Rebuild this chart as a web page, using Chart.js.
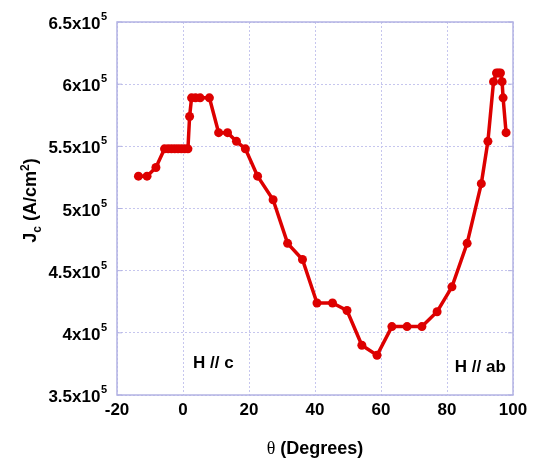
<!DOCTYPE html>
<html>
<head>
<meta charset="utf-8">
<script src="https://cdn.jsdelivr.net/npm/chart.js@4.4.0/dist/chart.umd.min.js"></script>
<style>
  html, body { margin: 0; padding: 0; background: #fff; }
  #wrap { width: 536px; height: 460px; }
</style>
</head>
<body>
<div id="wrap"><canvas id="jc-chart" width="536" height="460"></canvas></div>
<script>
// angle between field and c axis (degrees)
const theta = [-13.5, -10.9, -8.2, -5.6, -4.5, -3.5, -2.5, -1.5, -0.5, 0.5, 1.5, 2.0, 2.6, 3.8, 5.2, 8.0,
  10.8, 13.5, 16.2, 18.9, 22.6, 27.3, 31.7, 36.2, 40.6, 45.3, 49.7, 54.2, 58.8, 63.3, 67.9, 72.4,
  77.0, 81.5, 86.1, 90.4, 92.4, 94.1, 95.0, 95.6, 96.2, 96.7, 97.0, 97.9];
// critical current density (A/cm2)
const jc = [526000, 526000, 533000, 548000, 548000, 548000, 548000, 548000, 548000, 548000, 548000, 574000, 589000, 589000, 589000, 589000,
  561000, 561000, 554000, 548000, 526000, 507000, 472000, 459000, 424000, 424000, 418000, 390000, 382000, 405000, 405000, 405000,
  417000, 437000, 472000, 520000, 554000, 602000, 609000, 609000, 609000, 602000, 589000, 561000];

const xTicks = [-20, 0, 20, 40, 60, 80, 100];
const yTicks = [350000, 400000, 450000, 500000, 550000, 600000, 650000];
const yTickText = ['3.5x10', '4x10', '4.5x10', '5x10', '5.5x10', '6x10', '6.5x10'];

const notes = [
  { x: 9.2, y: 375700, text: 'H // c' },
  { x: 90.1, y: 372500, text: 'H // ab' }
];

const SANS = '"Liberation Sans", Arial, sans-serif';
const RED = '#dd0000';
const GRID = '#c6c6ee';
const FRAME = '#b3b3e3';

// frame, superscript tick labels and titles
const decorations = {
  id: 'decorations',
  beforeDatasetsDraw(chart) {
    const { ctx, chartArea: a } = chart;
    ctx.save();
    ctx.strokeStyle = FRAME;
    ctx.lineWidth = 1.5;
    ctx.strokeRect(a.left, a.top, a.right - a.left, a.bottom - a.top);
    // short solid tick marks on left/right edges
    const ys = chart.scales.y;
    ctx.lineWidth = 1;
    yTicks.forEach(v => {
      const py = ys.getPixelForValue(v);
      ctx.beginPath();
      ctx.moveTo(a.left, py); ctx.lineTo(a.left + 5, py);
      ctx.moveTo(a.right, py); ctx.lineTo(a.right - 5, py);
      ctx.stroke();
    });
    ctx.restore();
  },
  afterDraw(chart) {
    const { ctx, chartArea: a } = chart;
    const ys = chart.scales.y;
    const xs = chart.scales.x;
    ctx.save();
    ctx.fillStyle = '#000';
    // y tick labels like 6x10^5
    yTicks.forEach((v, i) => {
      const py = ys.getPixelForValue(v);
      ctx.font = 'bold 11px ' + SANS;
      const supW = ctx.measureText('5').width;
      const right = 107;
      ctx.textBaseline = 'alphabetic';
      ctx.textAlign = 'left';
      ctx.fillText('5', right - supW, py - 2);
      ctx.font = 'bold 17px ' + SANS;
      ctx.textAlign = 'right';
      ctx.fillText(yTickText[i], right - supW - 0.5, py + 7);
    });

    // y axis title: J_c (A/cm^2), rotated
    ctx.save();
    ctx.translate(30, (a.top + a.bottom) / 2 - 8);
    ctx.rotate(-Math.PI / 2);
    const parts = [
      { t: 'J', f: 'bold 18px ', dy: 0 },
      { t: 'c', f: 'bold 12px ', dy: 5 },
      { t: ' (A/cm', f: 'bold 18px ', dy: 0 },
      { t: '2', f: 'bold 12px ', dy: -7 },
      { t: ')', f: 'bold 18px ', dy: 0 }
    ];
    let total = 0;
    parts.forEach(p => { ctx.font = p.f + SANS; p.w = ctx.measureText(p.t).width; total += p.w; });
    let cx = -total / 2;
    ctx.textAlign = 'left';
    ctx.textBaseline = 'alphabetic';
    parts.forEach(p => {
      ctx.font = p.f + SANS;
      ctx.fillText(p.t, cx, 6 + p.dy);
      cx += p.w;
    });
    ctx.restore();

    // x axis title
    const tparts = [
      { t: '\u03b8', f: '18px "Liberation Serif", serif' },
      { t: ' (Degrees)', f: 'bold 18px ' + SANS }
    ];
    let tw = 0;
    tparts.forEach(p => { ctx.font = p.f; p.w = ctx.measureText(p.t).width; tw += p.w; });
    let tx = (a.left + a.right) / 2 - tw / 2;
    ctx.textAlign = 'left';
    ctx.textBaseline = 'alphabetic';
    tparts.forEach(p => { ctx.font = p.f; ctx.fillText(p.t, tx, 454); tx += p.w; });

    // annotations
    ctx.font = 'bold 17px ' + SANS;
    ctx.textAlign = 'center';
    ctx.textBaseline = 'middle';
    notes.forEach(n => {
      ctx.fillText(n.text, xs.getPixelForValue(n.x), ys.getPixelForValue(n.y));
    });
    ctx.restore();
  }
};

document.addEventListener('DOMContentLoaded', () => {
  const ctx = document.getElementById('jc-chart').getContext('2d');
  new Chart(ctx, {
    type: 'line',
    data: {
      datasets: [{
        label: 'Jc',
        data: theta.map((t, i) => ({ x: t, y: jc[i] })),
        borderColor: RED,
        backgroundColor: RED,
        borderWidth: 3.5,
        pointRadius: 4.5,
        pointHoverRadius: 4.5,
        pointBorderWidth: 0,
        tension: 0,
        fill: false
      }]
    },
    options: {
      responsive: false,
      animation: false,
      events: [],
      layout: { padding: { top: 22, right: 23, left: 0, bottom: 0 } },
      plugins: { legend: { display: false }, tooltip: { enabled: false } },
      scales: {
        x: {
          type: 'linear',
          min: -20, max: 100,
          afterBuildTicks: s => { s.ticks = xTicks.map(v => ({ value: v })); },
          afterFit: s => { s.height = 65; },
          grid: { color: GRID, lineWidth: 1, drawTicks: false },
          border: { display: false, dash: [2, 2] },
          ticks: {
            padding: 5,
            color: '#000',
            font: { family: SANS, size: 17, weight: 'bold' },
            maxRotation: 0
          }
        },
        y: {
          type: 'linear',
          min: 350000, max: 650000,
          afterBuildTicks: s => { s.ticks = yTicks.map(v => ({ value: v })); },
          afterFit: s => { s.width = 117; },
          grid: { color: GRID, lineWidth: 1, drawTicks: false },
          border: { display: false, dash: [2, 2] },
          ticks: { display: false }
        }
      }
    },
    plugins: [decorations]
  });
});
</script>
</body>
</html>
